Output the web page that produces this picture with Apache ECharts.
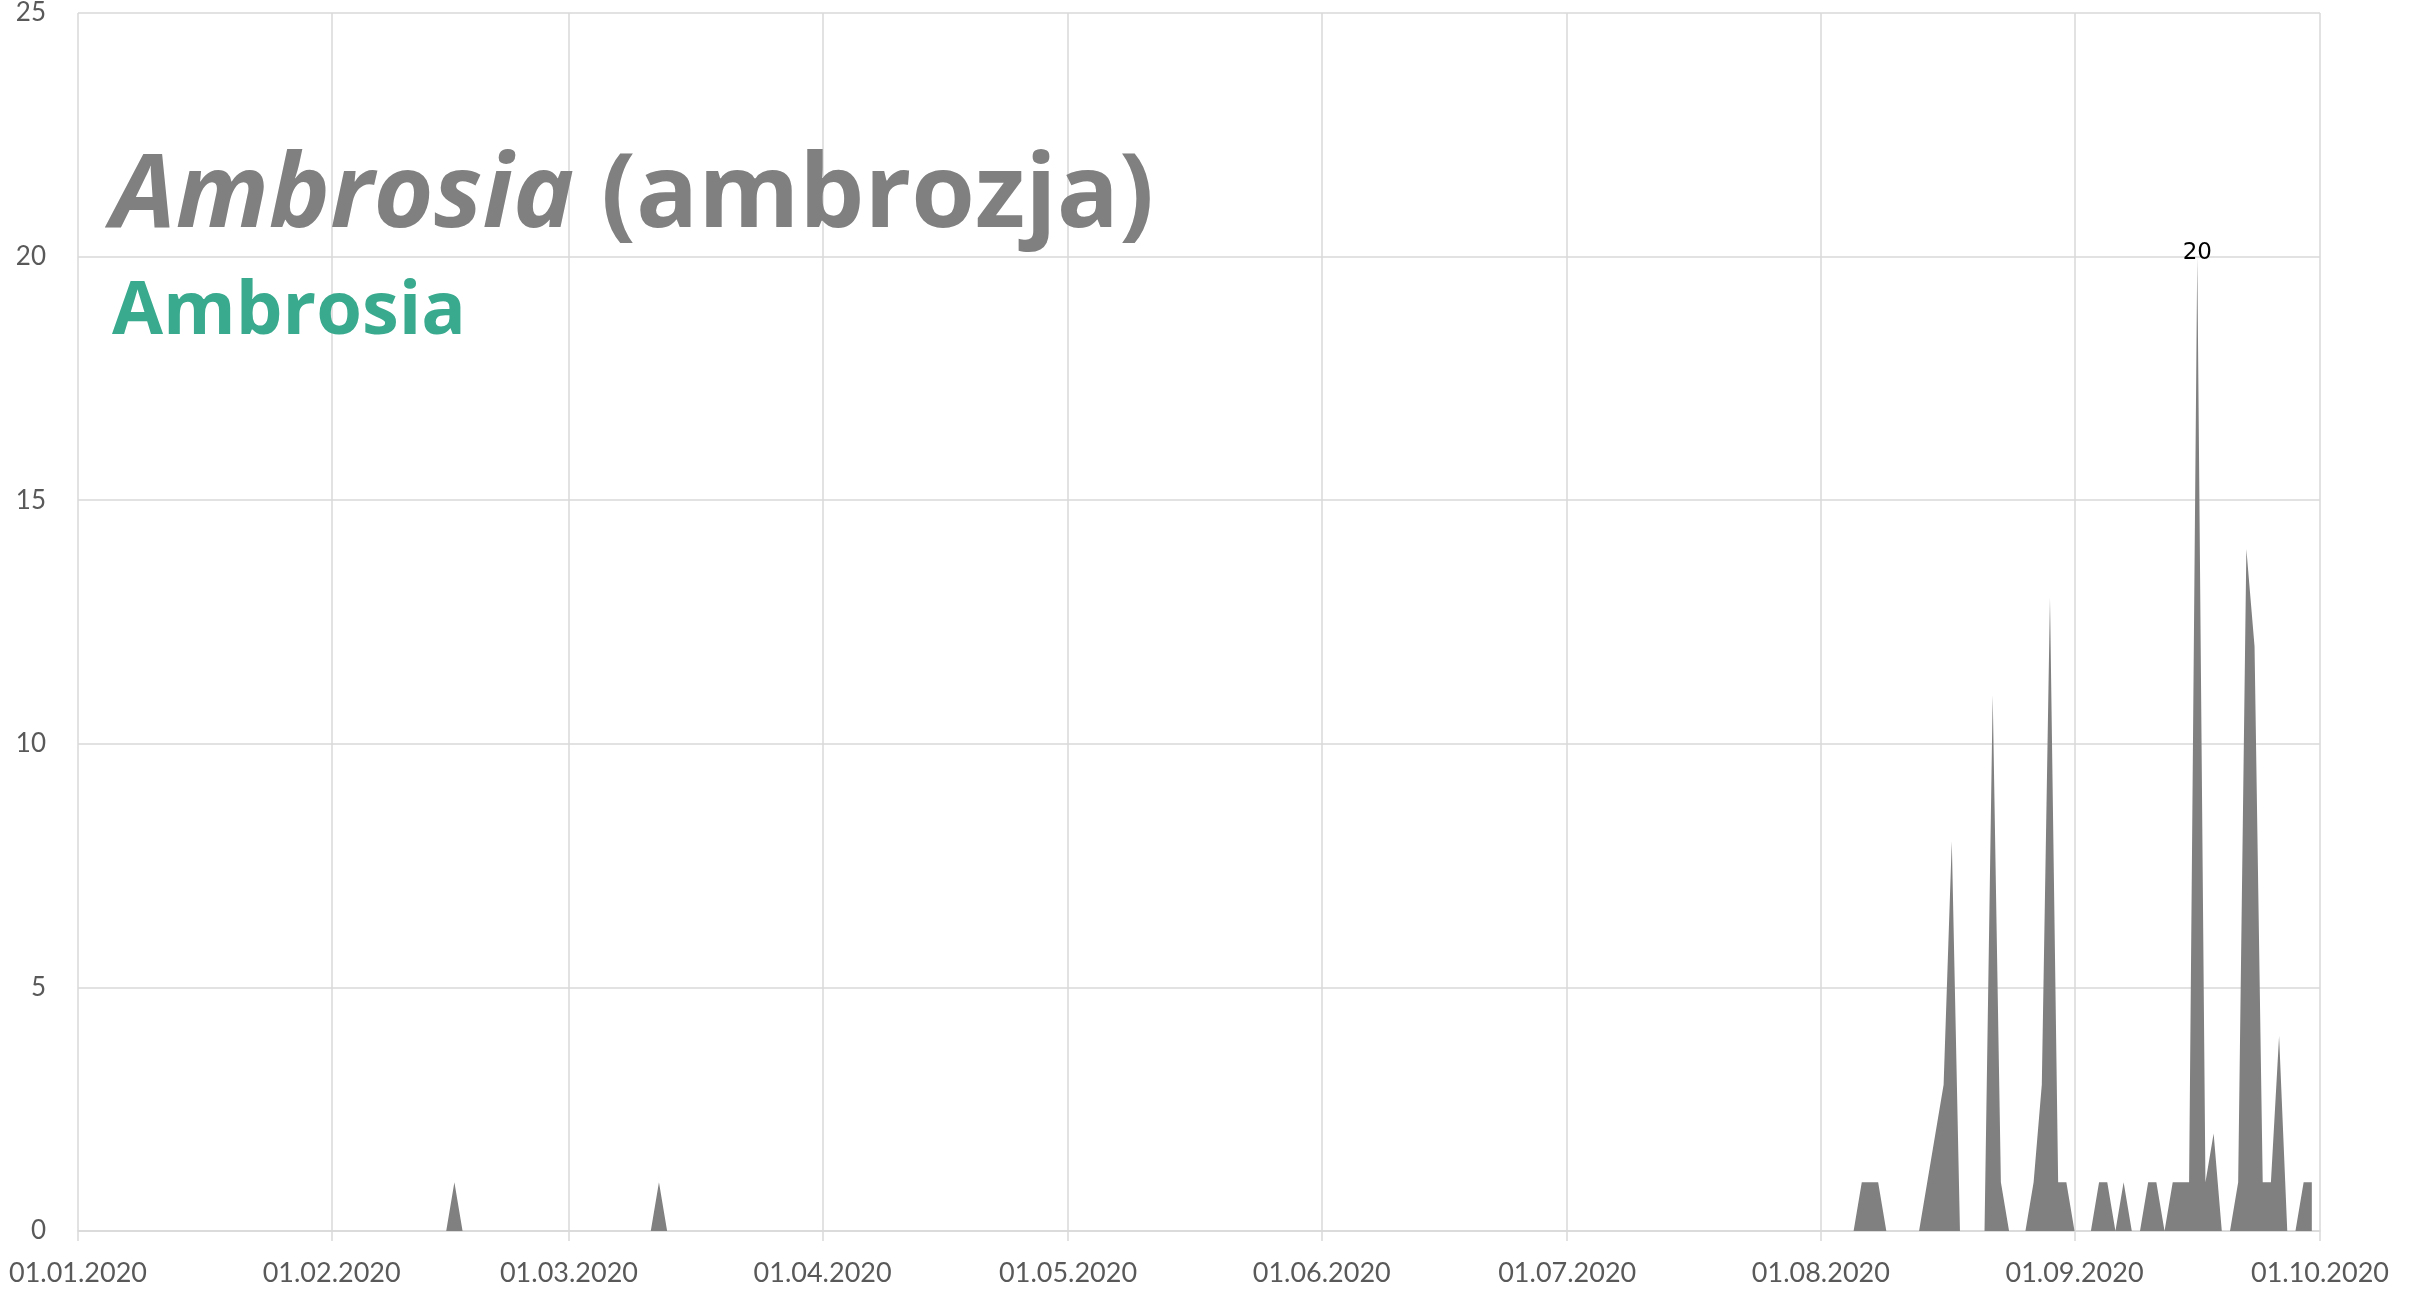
<!DOCTYPE html>
<html>
<head>
<meta charset="utf-8">
<script src="https://cdn.jsdelivr.net/npm/echarts@6/dist/echarts.min.js"></script>
<style>
  html, body { margin: 0; padding: 0; background: #fff; }
  #chart { width: 2425px; height: 1290px; }
</style>
</head>
<body>
<div id="chart"></div>
<script>
// stężenie pyłku, wartości dzienne (01.01.2020 - 30.09.2020)
var jan = [0,0,0,0,0,0,0,0,0,0, 0,0,0,0,0,0,0,0,0,0, 0,0,0,0,0,0,0,0,0,0, 0];
var feb = [0,0,0,0,0,0,0,0,0,0, 0,0,0,0,0,1,0,0,0,0, 0,0,0,0,0,0,0,0,0];
var mar = [0,0,0,0,0,0,0,0,0,0, 0,1,0,0,0,0,0,0,0,0, 0,0,0,0,0,0,0,0,0,0, 0];
var apr = [0,0,0,0,0,0,0,0,0,0, 0,0,0,0,0,0,0,0,0,0, 0,0,0,0,0,0,0,0,0,0];
var may = [0,0,0,0,0,0,0,0,0,0, 0,0,0,0,0,0,0,0,0,0, 0,0,0,0,0,0,0,0,0,0, 0];
var jun = [0,0,0,0,0,0,0,0,0,0, 0,0,0,0,0,0,0,0,0,0, 0,0,0,0,0,0,0,0,0,0];
var jul = [0,0,0,0,0,0,0,0,0,0, 0,0,0,0,0,0,0,0,0,0, 0,0,0,0,0,0,0,0,0,0, 0];
var aug = [0,0,0,0,0,1,1,1,0,0, 0,0,0,1,2,3,8,0,0,0, 0,11,1,0,0,0,1,3,13,1, 1];
var sep = [0,0,0,1,1,0,1,0,0,1, 1,0,1,1,1,20,1,2,0,0, 1,14,12,1,1,4,0,0,1,1];

var months = [jan, feb, mar, apr, may, jun, jul, aug, sep];
var yTicks = [0, 5, 10, 15, 20, 25];

function pad(n) { return n < 10 ? '0' + n : '' + n; }

// etykiety dni dd.mm.rrrr + 01.10.2020 na końcu osi
var dates = [];
var values = [];
for (var m = 0; m < months.length; m++) {
    for (var d = 0; d < months[m].length; d++) {
        dates.push(pad(d + 1) + '.' + pad(m + 1) + '.2020');
        values.push(months[m][d]);
    }
}
dates.push('01.10.2020');
values.push('-');

function firstOfMonth(index, value) {
    return value.substring(0, 3) === '01.';
}

var myChart = echarts.init(document.getElementById('chart'));

var option = {
    backgroundColor: '#fff',
    animation: false,
    title: [
        {
            text: '{i|Ambrosia} (ambrozja)',
            left: 111,
            top: 146,
            padding: 0,
            textStyle: {
                fontFamily: 'Open Sans',
                fontWeight: 'bold',
                fontSize: 103,
                color: '#808080',
                rich: {
                    i: {
                        fontFamily: 'Open Sans',
                        fontWeight: 'bold',
                        fontStyle: 'italic',
                        fontSize: 103,
                        color: '#808080'
                    }
                }
            }
        },
        {
            text: 'Ambrosia',
            left: 112,
            top: 276,
            padding: 0,
            textStyle: {
                fontFamily: 'Open Sans',
                fontWeight: 'bold',
                fontSize: 74,
                color: '#39aa8e'
            }
        }
    ],
    grid: {
        left: 78,
        right: 105,
        top: 13,
        bottom: 59,
        containLabel: false
    },
    xAxis: {
        type: 'category',
        data: dates,
        boundaryGap: false,
        axisLine: { show: true, lineStyle: { color: '#d9d9d9', width: 1.5 } },
        axisTick: {
            show: true,
            interval: firstOfMonth,
            length: 10,
            lineStyle: { color: '#d9d9d9', width: 1.5 }
        },
        axisLabel: {
            interval: firstOfMonth,
            color: '#595959',
            fontFamily: 'Lato',
            fontSize: 27,
            margin: 29
        },
        splitLine: {
            show: true,
            interval: firstOfMonth,
            lineStyle: { color: '#d9d9d9', width: 1.5 }
        }
    },
    yAxis: {
        type: 'value',
        min: yTicks[0],
        max: yTicks[yTicks.length - 1],
        interval: 5,
        axisLine: { show: false },
        axisTick: { show: false },
        axisLabel: {
            color: '#595959',
            fontFamily: 'Lato',
            fontSize: 26,
            margin: 32
        },
        splitLine: { lineStyle: { color: '#d9d9d9', width: 1.5 } }
    },
    series: [
        {
            type: 'line',
            data: values,
            showSymbol: false,
            symbol: 'none',
            lineStyle: { width: 0, color: '#808080' },
            areaStyle: { color: '#808080', opacity: 1 },
            markPoint: {
                symbol: 'circle',
                symbolSize: 0,
                data: [{ type: 'max' }],
                label: {
                    show: true,
                    position: 'top',
                    distance: -8,
                    color: '#000',
                    fontFamily: 'DejaVu Sans',
                    fontSize: 23
                }
            }
        }
    ]
};

if (option && typeof option === "object") {
    myChart.setOption(option, true);
}
</script>
</body>
</html>
